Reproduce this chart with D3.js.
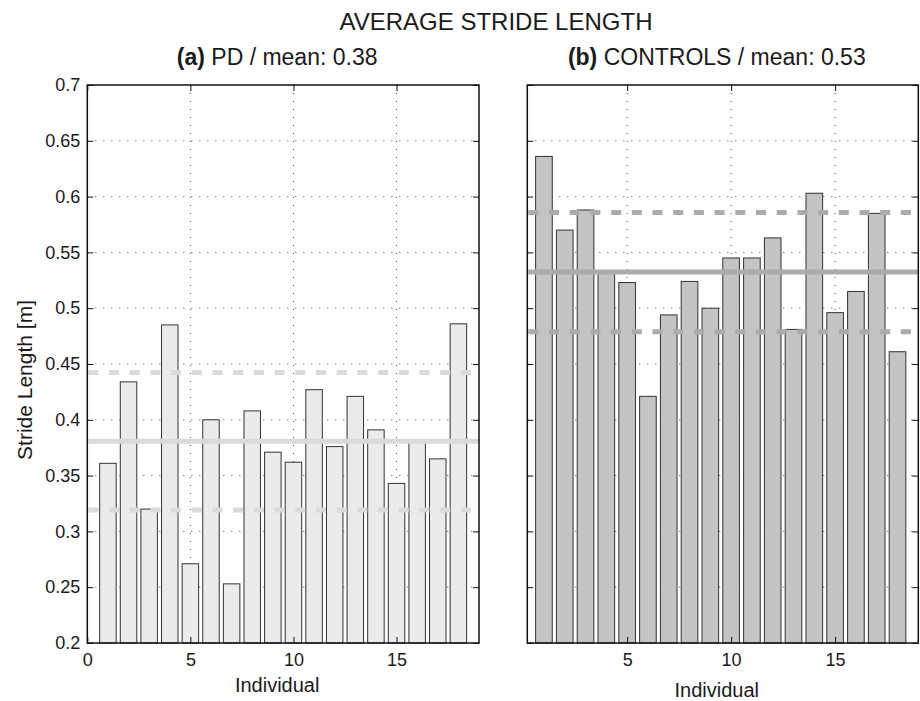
<!DOCTYPE html>
<html>
<head>
<meta charset="utf-8">
<script src="https://cdn.jsdelivr.net/npm/d3@7"></script>
<style>
body { margin: 0; background: #fff; }
text { font-family: "Liberation Sans", Arial, Helvetica, sans-serif; fill: #1a1a1a; }
</style>
</head>
<body>
<script>
// waarden
var individuals = [1, 2, 3, 4, 5, 6, 7, 8, 9, 10, 11, 12, 13, 14, 15, 16, 17, 18];
var pdLength = [0.361, 0.434, 0.320, 0.485, 0.271, 0.400, 0.253, 0.408, 0.371,
                0.362, 0.427, 0.376, 0.421, 0.391, 0.343, 0.380, 0.365, 0.486];
var ctrlLength = [0.636, 0.570, 0.588, 0.532, 0.523, 0.421, 0.494, 0.524, 0.500,
                  0.545, 0.545, 0.563, 0.481, 0.603, 0.496, 0.515, 0.585, 0.461];
var yTicks = [0.2, 0.25, 0.3, 0.35, 0.4, 0.45, 0.5, 0.55, 0.6, 0.65, 0.7];
var pdXTicks = [0, 5, 10, 15];
var ctrlXTicks = [5, 10, 15];

var width = 920, height = 701;
var plotTop = 85, plotBottom = 643;

var svg = d3.select("body").append("svg")
    .attr("width", width)
    .attr("height", height);

svg.append("rect").attr("width", width).attr("height", height).attr("fill", "#fff");

// hoofdtitel
svg.append("text")
    .attr("x", 496)
    .attr("y", 30)
    .attr("text-anchor", "middle")
    .attr("font-size", 24)
    .text("AVERAGE STRIDE LENGTH");

var panels = [
  {tag: "(a)", name: "PD", values: pdLength, xTicks: pdXTicks, xDomain: [0, 19],
   left: 87.3, right: 479, fill: "#ebebeb", lineColor: "#dadada", yLabels: true, xlabelY: 692},
  {tag: "(b)", name: "CONTROLS", values: ctrlLength, xTicks: ctrlXTicks, xDomain: [0.2, 19],
   left: 527.3, right: 918.3, fill: "#c4c4c4", lineColor: "#ababab", yLabels: false, xlabelY: 697}
];

var y = d3.scaleLinear().domain([0.2, 0.7]).range([plotBottom, plotTop]);

panels.forEach(function(p) {
  var x = d3.scaleLinear().domain(p.xDomain).range([p.left, p.right]);
  var g = svg.append("g");
  var mid = (p.left + p.right) / 2 - 6;

  // grid (stippellijnen) achter de bars
  g.append("g").selectAll("line")
    .data(yTicks.slice(1, -1))
    .enter().append("line")
      .attr("x1", p.left).attr("x2", p.right)
      .attr("y1", function(d) { return y(d); })
      .attr("y2", function(d) { return y(d); })
      .attr("stroke", "#444")
      .attr("stroke-width", 1)
      .attr("stroke-dasharray", "1,7");

  g.append("g").selectAll("line")
    .data(p.xTicks.filter(function(d) { return d > p.xDomain[0]; }))
    .enter().append("line")
      .attr("x1", function(d) { return x(d); })
      .attr("x2", function(d) { return x(d); })
      .attr("y1", plotTop).attr("y2", plotBottom)
      .attr("stroke", "#444")
      .attr("stroke-width", 1)
      .attr("stroke-dasharray", "1,7");

  // bars
  g.append("g").selectAll("rect")
    .data(p.values)
    .enter().append("rect")
      .attr("x", function(d, i) { return x(individuals[i] - 0.4); })
      .attr("y", function(d) { return y(d); })
      .attr("width", function(d, i) { return x(individuals[i] + 0.4) - x(individuals[i] - 0.4); })
      .attr("height", function(d) { return y(0.2) - y(d); })
      .attr("fill", p.fill)
      .attr("stroke", "#333")
      .attr("stroke-width", 1);

  // gemiddelde en +/- standaardafwijking
  var m = d3.mean(p.values), sd = d3.deviation(p.values);
  var stats = [
    {v: m, dash: null},
    {v: m + sd, dash: "10,10.7"},
    {v: m - sd, dash: "10,10.7"}
  ];
  g.append("g").selectAll("line")
    .data(stats)
    .enter().append("line")
      .attr("x1", p.left + 1).attr("x2", p.right)
      .attr("y1", function(d) { return y(d.v); })
      .attr("y2", function(d) { return y(d.v); })
      .attr("stroke", p.lineColor)
      .attr("stroke-width", 5)
      .attr("stroke-dasharray", function(d) { return d.dash; });

  // assen met ticks naar binnen, aan alle kanten
  var yAxisL = d3.axisLeft(y).tickValues(yTicks).tickSizeInner(-6).tickSizeOuter(0)
      .tickPadding(7).tickFormat(function(d) { return p.yLabels ? String(+d.toFixed(2)) : ""; });
  var yAxisR = d3.axisRight(y).tickValues(yTicks).tickSizeInner(-6).tickSizeOuter(0).tickFormat("");
  var xAxisB = d3.axisBottom(x).tickValues(p.xTicks).tickSizeInner(-6).tickSizeOuter(0).tickPadding(10);
  var xAxisT = d3.axisTop(x).tickValues(p.xTicks).tickSizeInner(-6).tickSizeOuter(0).tickFormat("");

  [ [yAxisL, "translate(" + p.left + ",0)"],
    [yAxisR, "translate(" + p.right + ",0)"],
    [xAxisB, "translate(0," + plotBottom + ")"],
    [xAxisT, "translate(0," + plotTop + ")"] ].forEach(function(a) {
    var ax = g.append("g")
        .attr("transform", a[1])
        .call(a[0])
        .attr("font-size", 18)
        .attr("font-family", null);
    ax.select(".domain").remove();
    ax.selectAll("line").attr("stroke", "#111").attr("stroke-width", 1);
    ax.selectAll("text").attr("fill", "#1a1a1a");
  });

  // kader
  g.append("rect")
      .attr("x", p.left).attr("y", plotTop)
      .attr("width", p.right - p.left).attr("height", plotBottom - plotTop)
      .attr("fill", "none")
      .attr("stroke", "#111")
      .attr("stroke-width", 1.5);

  // subtitel
  var t = g.append("text")
      .attr("x", mid)
      .attr("y", 65)
      .attr("text-anchor", "middle")
      .attr("font-size", 23);
  t.append("tspan").attr("font-weight", "bold").text(p.tag);
  t.append("tspan").text(" " + p.name + " / mean: " + d3.format(".2f")(m));

  g.append("text")
      .attr("x", mid)
      .attr("y", p.xlabelY)
      .attr("text-anchor", "middle")
      .attr("font-size", 20)
      .text("Individual");
});

svg.append("text")
    .attr("transform", "translate(32,380) rotate(-90)")
    .attr("text-anchor", "middle")
    .attr("font-size", 21)
    .text("Stride Length [m]");
</script>
</body>
</html>
